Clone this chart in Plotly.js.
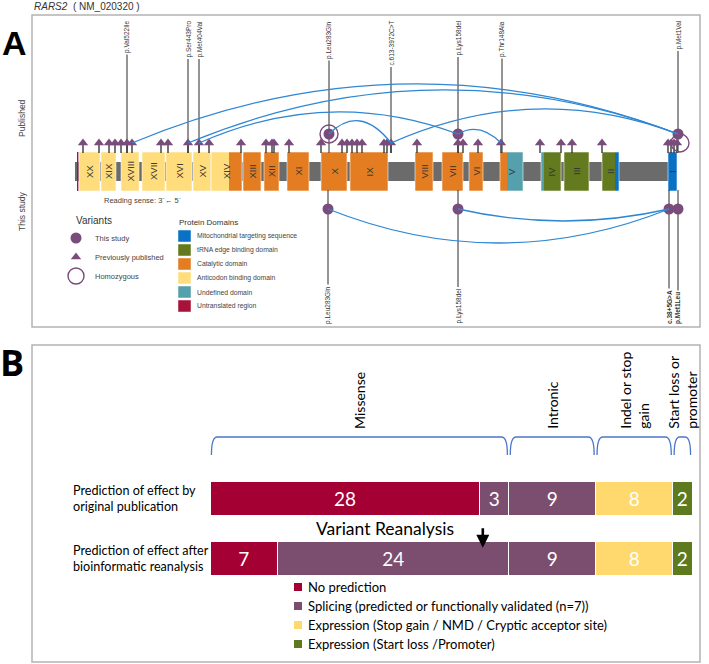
<!DOCTYPE html>
<html><head><meta charset="utf-8">
<script src="https://cdn.plot.ly/plotly-3.0.1.min.js"></script>
<style>html,body{margin:0;padding:0;background:#fff}</style>
</head><body><div id="chart" style="width:709px;height:664px"></div>
<script>
// ================= Panel A data (gene model, positions along the drawn gene axis) =================
const geneStart = 75, geneEnd = 668;
const exonNames = ['XX','XIX','XVIII','XVII','XVI','XV','XIV','XIII','XII','XI','X','IX','VIII','VII','VI','V','IV','III','II','I'];
const exonStart = [79,101,121,142,166,193,211,243,264,287,321,350,415,442,469,500,541,564,602,668];
const exonEnd   = [100,116,139,165,192,211,242,261,279,309,347,388,433,463,483,523,561,589,619,677];
const segStart  = [77,79,101,121,142,166,193,211,229,243,264,287,321,350,415,442,469,500,507,541,544,564,602,615,668];
const segEnd    = [78.5,100,116,139,165,192,211,229,242,261,279,309,347,388,433,463,483,507,523,544,561,589,615,619,677];
const segDomain = [5,3,3,3,3,3,3,3,2,2,2,2,2,2,2,2,2,2,4,4,1,1,1,0,0];
const domainNames = ['Mitochondrial targeting sequence','tRNA edge binding domain','Catalytic domain','Anticodon binding domain','Undefined domain','Untranslated region'];
const domainColors = ['#0a72c4','#647a1e','#e47d22','#ffdc7c','#54a0ac','#a8123a'];

const publishedX = [83,99,109,115,121,127,132,161,168,188,199,209,241,266,272,274,289,321,342,347,352,357,362,384,387,391,417,458,463,478,501,540,561,572,602,668,671,674,677];
const topLabels  = ['p.Val522Ile','p.Ser443Pro','p.Met404Val','p.Leu283Gln','c.613-3972C>T','p.Lys158del','p.Thr148Ala','p.Met1Val'];
const topLabelX  = [127,188,199,329,391,458,502,678];
const topStudyX  = [329,458,678];
const homTopCircleX = [329];
const homTopTriX = [680];
const bottomLabels = ['p.Leu283Gln','p.Lys158del','c.38+5G>A','p.Met1Leu'];
const bottomX      = [328,458,669,678];
const bottomBold   = [false,false,true,true];
// connections (compound heterozygous pairs): from, to, extreme height
const arcFrom = [132,188,199,329,391,458];
const arcFromRow = ['tri','tri','tri','circ','tri','circ'];
const arcTo   = [678,678,458,391,678,501];
const arcToRow = ['circ','circ','circ','tri','circ','tri'];
const arcPeak = [84,90,112,121,109,130];
const arcBotFrom = [328,458];
const arcBotTo   = [669,669];
const arcBotLow  = [243,221];

// ================= Panel B data =================
const rowLabels = ['Prediction of effect by<br>original publication','Prediction of effect after<br>bioinformatic reanalysis'];
const groupNames = ['Missense','Intronic','Indel or stop<br>gain','Start loss or<br>promoter'];
const missenseNoPred   = [28, 7];
const missenseSplicing = [3, 24];
const intronicSplicing = [9, 9];
const indelExpression  = [8, 8];
const startExpression  = [2, 2];
const effectNames = ['No prediction','Splicing (predicted or functionally validated (n=7))','Expression (Stop gain / NMD / Cryptic acceptor site)','Expression (Start loss /Promoter)'];
const effectColors = ['#a50034','#7b4e70','#ffd96e','#5d7a1f'];

// ================= build =================
const W = 709, H = 664;
const purple = '#7a4c7c', blue = '#2f87d2', stem = '#2a2a2a';
const fA = 'Liberation Sans, Arial, sans-serif';
const fB = 'Lato, Open Sans, sans-serif';
const yTri = 143, yCirc = 134, exTop = 152, exBot = 191, bbTop = 162, bbBot = 181, yBot = 209;

const shapes = [], annotations = [], traces = [];

// frames
shapes.push({type:'rect',xref:'x',yref:'y',x0:32,x1:700,y0:15,y1:327,line:{color:'#b3b3b3',width:1.5},layer:'below'});
shapes.push({type:'rect',xref:'x',yref:'y',x0:32,x1:700,y0:345,y1:662,line:{color:'#b3b3b3',width:1.5},layer:'below'});
// backbone
shapes.push({type:'rect',xref:'x',yref:'y',x0:geneStart,x1:geneEnd,y0:bbTop,y1:bbBot,fillcolor:'#6b6b6b',line:{width:0},layer:'below'});
// exon segments
segStart.forEach((s,i)=>{
  shapes.push({type:'rect',xref:'x',yref:'y',x0:s,x1:segEnd[i],y0:exTop,y1:exBot,
    fillcolor:domainColors[segDomain[i]],line:{width:0},layer:'below'});
});
exonStart.forEach((s,i)=>{
  shapes.push({type:'rect',xref:'x',yref:'y',x0:s,x1:exonEnd[i],y0:exTop,y1:exBot,
    fillcolor:'rgba(0,0,0,0)',line:{color:'rgba(255,255,255,0.55)',width:1},layer:'below'});
  annotations.push({x:(s+exonEnd[i])/2,y:(exTop+exBot)/2,xref:'x',yref:'y',text:exonNames[i],showarrow:false,
    textangle:-90,font:{family:fA,size:9.5,color:'#333'}});
});
// stems
publishedX.forEach(x=>shapes.push({type:'line',xref:'x',yref:'y',x0:x,x1:x,y0:yTri,y1:exTop+1,line:{color:stem,width:1.3},layer:'below'}));
topLabelX.forEach((x,i)=>{
  shapes.push({type:'line',xref:'x',yref:'y',x0:x,x1:x,y0:24,y1:exTop+1,line:{color:stem,width:1},layer:'below'});
  annotations.push({x:x,y:19,xref:'x',yref:'y',text:topLabels[i],showarrow:false,textangle:-90,yanchor:'top',
    font:{family:fA,size:6.5,color:'#333'},bgcolor:'#ffffff',borderpad:1});
});
bottomX.forEach((x,i)=>{
  shapes.push({type:'line',xref:'x',yref:'y',x0:x,x1:x,y0:exBot-1,y1:322,line:{color:stem,width:1},layer:'below'});
  annotations.push({x:x,y:326,xref:'x',yref:'y',text:bottomBold[i]?'<b>'+bottomLabels[i]+'</b>':bottomLabels[i],showarrow:false,textangle:-90,yanchor:'bottom',
    font:{family:fA,size:6.5,color:'#333'},bgcolor:'#ffffff',borderpad:1});
});
// arcs
const rowY = r => r==='tri'?yTri:yCirc;
arcFrom.forEach((a,i)=>{
  const y0 = rowY(arcFromRow[i]), y1 = rowY(arcToRow[i]);
  const cx = (a+arcTo[i])/2, cy = 2*arcPeak[i]-(y0+y1)/2;
  shapes.push({type:'path',xref:'x',yref:'y',path:`M ${a},${y0} Q ${cx},${cy} ${arcTo[i]},${y1}`,line:{color:blue,width:1.3},layer:'above'});
});
arcBotFrom.forEach((a,i)=>{
  const cx=(a+arcBotTo[i])/2, cy=2*arcBotLow[i]-yBot;
  shapes.push({type:'path',xref:'x',yref:'y',path:`M ${a},${yBot} Q ${cx},${cy} ${arcBotTo[i]},${yBot}`,line:{color:blue,width:1.3},layer:'above'});
});

// markers
traces.push({type:'scatter',mode:'markers',x:publishedX,y:publishedX.map(()=>yTri),xaxis:'x',yaxis:'y',
  marker:{symbol:'triangle-up',size:9,color:purple},hoverinfo:'skip',showlegend:false});
traces.push({type:'scatter',mode:'markers',x:topStudyX,y:topStudyX.map(()=>yCirc),xaxis:'x',yaxis:'y',
  marker:{symbol:'circle',size:11,color:purple},hoverinfo:'skip',showlegend:false});
traces.push({type:'scatter',mode:'markers',x:bottomX,y:bottomX.map(()=>yBot),xaxis:'x',yaxis:'y',
  marker:{symbol:'circle',size:11,color:purple},hoverinfo:'skip',showlegend:false});
traces.push({type:'scatter',mode:'markers',x:homTopCircleX.concat(homTopTriX),y:homTopCircleX.map(()=>yCirc).concat(homTopTriX.map(()=>yTri)),xaxis:'x',yaxis:'y',
  marker:{symbol:'circle-open',size:18,color:purple,line:{width:1.4,color:purple}},hoverinfo:'skip',showlegend:false});

// panel A legend
annotations.push({x:102,y:200,xref:'x',yref:'y',text:'Reading sense: 3`← 5`',showarrow:false,xanchor:'left',font:{family:fA,size:7.5,color:'#444'}});
annotations.push({x:74,y:220,xref:'x',yref:'y',text:'Variants',showarrow:false,xanchor:'left',font:{family:fA,size:10,color:'#333'}});
const varLegend = [['circle','This study'],['triangle-up','Previously published'],['circle-open','Homozygous']];
varLegend.forEach((v,i)=>{
  const yy = 238+i*19;
  traces.push({type:'scatter',mode:'markers',x:[76],y:[yy],xaxis:'x',yaxis:'y',
    marker:{symbol:v[0],size:v[0]==='circle-open'?16:(v[0]==='circle'?11:9),color:purple,line:{width:v[0]==='circle-open'?1.4:0,color:purple}},hoverinfo:'skip',showlegend:false});
  annotations.push({x:93,y:yy,xref:'x',yref:'y',text:v[1],showarrow:false,xanchor:'left',font:{family:fA,size:7.5,color:'#444'}});
});
annotations.push({x:177,y:222,xref:'x',yref:'y',text:'Protein Domains',showarrow:false,xanchor:'left',font:{family:fA,size:8,color:'#333'}});
domainNames.forEach((d,i)=>{
  const yy = 236+i*14;
  shapes.push({type:'rect',xref:'x',yref:'y',x0:178,x1:191,y0:yy-6,y1:yy+6,fillcolor:domainColors[i],line:{color:'rgba(255,255,255,0.6)',width:0.8}});
  annotations.push({x:195,y:yy,xref:'x',yref:'y',text:d,showarrow:false,xanchor:'left',font:{family:fA,size:6.8,color:'#444'}});
});
annotations.push({x:22,y:118,xref:'x',yref:'y',text:'Published',showarrow:false,textangle:-90,font:{family:fA,size:8.5,color:'#444'}});
annotations.push({x:22,y:212,xref:'x',yref:'y',text:'This study',showarrow:false,textangle:-90,font:{family:fA,size:8.5,color:'#444'}});
annotations.push({x:32,y:6,xref:'x',yref:'y',text:'<i>RARS2</i>  ( NM_020320 )',showarrow:false,xanchor:'left',font:{family:fA,size:10,color:'#333'}});
annotations.push({x:14,y:43,xref:'x',yref:'y',text:'<b>A</b>',showarrow:false,font:{family:fA,size:34,color:'#000'}});
annotations.push({x:12,y:362,xref:'x',yref:'y',text:'<b>B</b>',showarrow:false,font:{family:'Open Sans, sans-serif',size:36,color:'#000'}});

// ================= Panel B bars =================
const yRows = [0,1];
const barSeries = [
  [missenseNoPred,0],[missenseSplicing,1],[intronicSplicing,1],[indelExpression,2],[startExpression,3]
];
barSeries.forEach(([vals,c])=>{
  traces.push({type:'bar',orientation:'h',x:vals,y:yRows,xaxis:'x2',yaxis:'y2',width:0.58,
    marker:{color:effectColors[c],line:{color:'#ffffff',width:1}},
    text:vals.map(String),textposition:'inside',insidetextanchor:'middle',constraintext:'none',
    textfont:{family:fB,size:19,color:'#ffffff'},hoverinfo:'skip',showlegend:false});
});
rowLabels.forEach((t,i)=>{
  annotations.push({x:71,y:i,xref:'x',yref:'y2',text:t,showarrow:false,xanchor:'left',align:'left',
    font:{family:fB,size:12.6,color:'#000'}});
});
// group brackets and labels
const groupTotals = [missenseNoPred[0]+missenseSplicing[0], intronicSplicing[0], indelExpression[0], startExpression[0]];
let acc = 0;
groupTotals.forEach((g,i)=>{
  const s = acc+0.15, e = acc+g-0.15; acc += g;
  const r = Math.min(0.6,(e-s)/3);
  shapes.push({type:'path',xref:'x2',yref:'y',path:`M ${s},455 Q ${s},437 ${s+r},437 L ${e-r},437 Q ${e},437 ${e},455`,line:{color:'#4a78c8',width:1.3}});
  annotations.push({x:(s+e)/2,y:431,xref:'x2',yref:'y',text:groupNames[i],showarrow:false,textangle:-90,yanchor:'bottom',align:'left',
    font:{family:fB,size:14,color:'#000'}});
});
annotations.push({x:385,y:528,xref:'x',yref:'y',text:'Variant Reanalysis',showarrow:false,font:{family:fB,size:17.5,color:'#000'}});
annotations.push({x:missenseNoPred[0]+0.3,y:0.5+0.32,xref:'x2',yref:'y2',ax:0,ay:-21,text:'',showarrow:true,arrowhead:2,arrowsize:1,arrowwidth:2.6,arrowcolor:'#000'});
// panel B legend
effectNames.forEach((n,i)=>{
  const yy = 587+i*19;
  shapes.push({type:'rect',xref:'x',yref:'y',x0:294,x1:302,y0:yy-4,y1:yy+4,fillcolor:effectColors[i],line:{width:0}});
  annotations.push({x:306,y:yy,xref:'x',yref:'y',text:n,showarrow:false,xanchor:'left',font:{family:fB,size:13,color:'#000'}});
});

const total = groupTotals.reduce((a,b)=>a+b,0);
const layout = {
  width:W,height:H,margin:{l:0,r:0,t:0,b:0},paper_bgcolor:'#fff',plot_bgcolor:'rgba(0,0,0,0)',
  barmode:'stack',showlegend:false,
  xaxis:{range:[0,W],domain:[0,1],visible:false,fixedrange:true},
  yaxis:{range:[H,0],domain:[0,1],visible:false,fixedrange:true},
  xaxis2:{range:[0,total],domain:[210/W,692/W],anchor:'y2',visible:false},
  yaxis2:{range:[1.5,-0.5],domain:[1-588.5/H,1-468.5/H],anchor:'x2',visible:false},
  shapes:shapes,annotations:annotations
};
Plotly.newPlot('chart',traces,layout,{displayModeBar:false,staticPlot:true});
</script></body></html>
